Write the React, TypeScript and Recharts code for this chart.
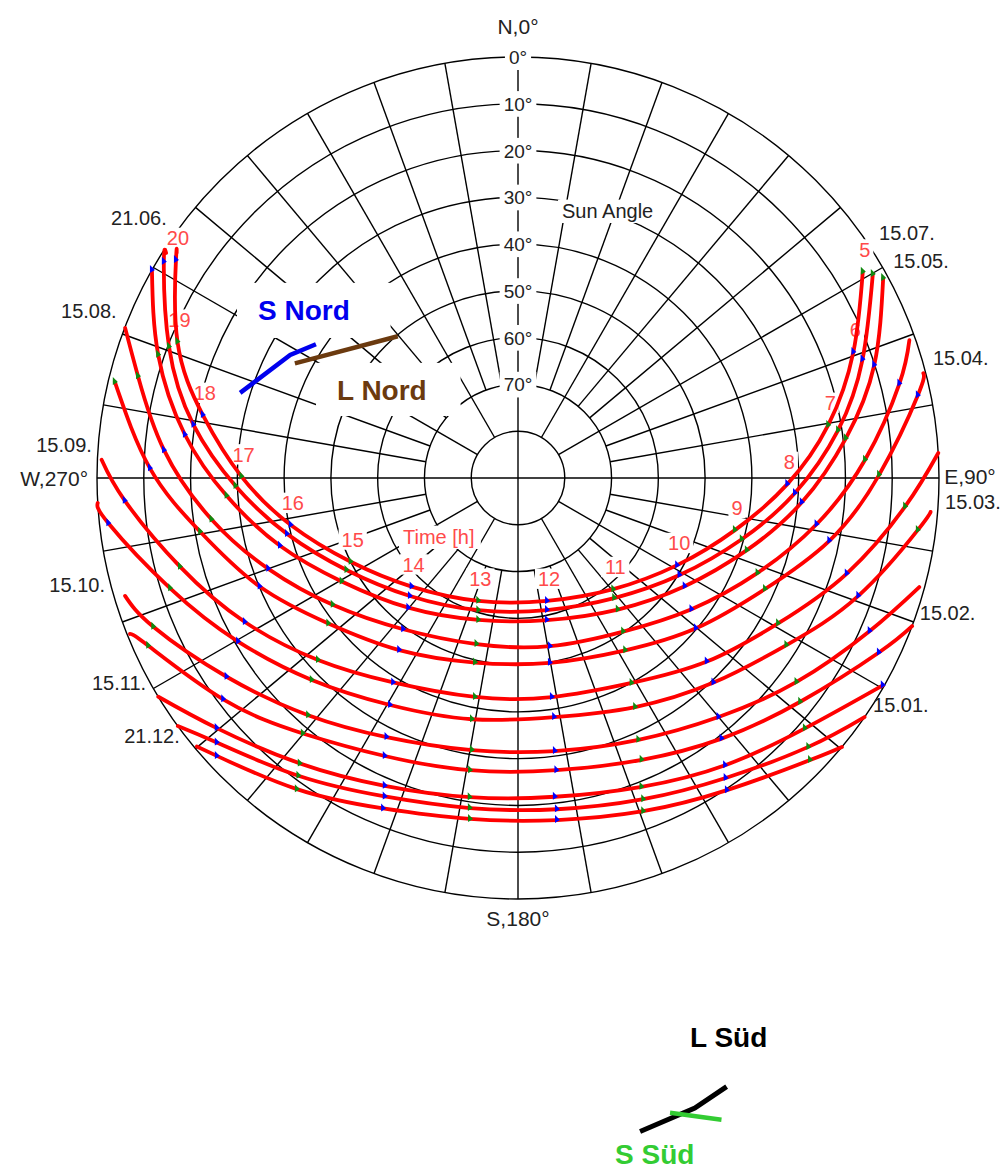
import { ScatterChart, Scatter, XAxis, YAxis } from "recharts";

// sun path points: [hour (null = curve end), azimuth deg, elevation deg]
type PathPoint = [number | null, number, number];

const path2106: PathPoint[] = [
  [5, 59.1, 4.1], [6, 69.4, 13.4], [7, 80.3, 22.7], [8, 91.3, 32.4], [9, 103.5, 42.3],
  [10, 118.7, 51.2], [11, 139.4, 58.7], [12, 166.7, 63.0], [13, 197.9, 62.4], [14, 224.4, 57.5],
  [15, 243.4, 50.0], [16, 258.3, 40.4], [17, 270.3, 30.9], [18, 281.3, 21.3], [19, 291.8, 11.6],
  [20, 302.5, 3.3], [null, 303.4, 2.6],
];
const path1507: PathPoint[] = [
  [5, 60.1, 2.5], [6, 71.0, 12.1], [7, 81.5, 20.8], [8, 93.1, 30.7], [9, 105.3, 40.4],
  [10, 121.0, 49.7], [11, 141.3, 57.1], [12, 167.6, 61.1], [13, 196.7, 60.5], [14, 222.5, 55.8],
  [15, 241.8, 48.4], [16, 256.4, 39.2], [17, 268.4, 29.6], [18, 279.3, 19.7], [19, 290.6, 10.3],
  [20, 301.4, 1.3], [null, 302.6, 0.7],
];
const path1505: PathPoint[] = [
  [5, 61.3, 1.0], [6, 72.4, 10.1], [7, 83.1, 19.4], [8, 94.9, 29.1], [9, 107.5, 38.7],
  [10, 123.0, 47.5], [11, 142.8, 54.7], [12, 168.5, 59.0], [13, 195.6, 58.5], [14, 220.2, 53.7],
  [15, 239.6, 46.3], [16, 254.1, 37.1], [17, 266.5, 27.6], [18, 277.4, 18.2], [19, 288.9, 8.7],
  [20, 299.6, 0],
];
const path1508: PathPoint[] = [
  [null, 70.6, 1.3], [6, 76.1, 6.0], [7, 87.0, 15.7], [8, 98.8, 25.4], [9, 111.6, 34.9],
  [10, 127.1, 43.5], [11, 145.6, 50.2], [12, 169.2, 53.4], [13, 194.0, 53.4], [14, 217.2, 49.4],
  [15, 235.6, 42.0], [16, 250.0, 33.2], [17, 262.3, 23.9], [18, 274.5, 14.1], [19, 285.0, 5.9],
  [null, 290.9, 0.1],
];
const path1504: PathPoint[] = [
  [null, 75.5, 0.5], [6, 78.3, 2.7], [7, 89.5, 12.8], [8, 101.4, 22.1], [9, 114.2, 32.1],
  [10, 130.2, 40.2], [11, 148.1, 46.6], [12, 170.2, 49.9], [13, 193.1, 49.5], [14, 214.6, 45.3],
  [15, 232.5, 38.9], [16, 247.2, 30.1], [17, 260.4, 21.1], [18, 271.5, 11.3], [19, 283.4, 1.4],
];
const path1509: PathPoint[] = [
  [null, 86.6, 0], [7, 94.2, 7.0], [8, 106.2, 16.8], [9, 119.2, 26.3], [10, 134.2, 33.7],
  [11, 151.0, 39.9], [12, 171.2, 42.6], [13, 191.1, 42.3], [14, 211.4, 38.8], [15, 227.7, 32.2],
  [16, 242.2, 24.0], [17, 255.3, 15.3], [18, 266.7, 5.8], [null, 272.5, 0.9],
];
const path1503: PathPoint[] = [
  [null, 94.7, 1.5], [7, 97.4, 3.8], [8, 109.1, 13.0], [9, 121.9, 22.4], [10, 136.3, 29.5],
  [11, 152.9, 35.0], [12, 171.4, 38.3], [13, 190.8, 37.5], [14, 209.4, 34.3], [15, 225.6, 28.3],
  [16, 239.7, 20.7], [17, 252.4, 12.0], [18, 263.7, 1.9], [null, 266.6, 0],
];
const path1510: PathPoint[] = [
  [null, 105.2, 1.1], [8, 113.5, 8.0], [9, 126.2, 16.2], [10, 140.0, 23.3], [11, 155.3, 28.4],
  [12, 172.3, 31.1], [13, 189.6, 31.0], [14, 206.9, 27.9], [15, 221.5, 22.3], [16, 235.7, 14.6],
  [17, 247.8, 5.8], [null, 253.3, 2.3],
];
const path1502: PathPoint[] = [
  [null, 110.6, 0], [8, 115.8, 4.3], [9, 128.4, 13.0], [10, 142.0, 19.3], [11, 156.3, 24.2],
  [12, 172.5, 27.0], [13, 189.3, 26.7], [14, 205.6, 24.1], [15, 220.1, 18.6], [16, 233.1, 11.2],
  [17, 245.6, 3.2], [null, 248.1, 0.6],
];
const path1511: PathPoint[] = [
  [8, 119.6, 0.3], [9, 131.1, 8.6], [10, 144.2, 14.3], [11, 158.2, 18.9], [12, 173.4, 21.4],
  [13, 188.6, 21.0], [14, 203.4, 18.3], [15, 217.4, 13.2], [16, 230.3, 6.3], [null, 238.7, 0],
];
const path1501: PathPoint[] = [
  [null, 124.6, 0], [9, 132.8, 5.4], [10, 145.3, 12.0], [11, 158.7, 16.3], [12, 173.3, 18.7],
  [13, 188.3, 18.7], [14, 202.7, 16.2], [15, 216.4, 10.9], [16, 228.7, 4.3], [null, 233.9, 0],
];
const path2112: PathPoint[] = [
  [null, 129.7, 0], [9, 134.0, 3.2], [10, 146.2, 9.7], [11, 159.4, 13.9], [12, 173.5, 16.4],
  [13, 188.0, 16.4], [14, 202.2, 13.7], [15, 215.4, 8.4], [16, 227.3, 2.4], [null, 230.1, 0.5],
];

const sunPaths = [path2106, path1507, path1505, path1508, path1504, path1509,
  path1503, path1510, path1502, path1511, path1501, path2112];

const westDates = ["21.06.", "15.08.", "15.09.", "15.10.", "15.11.", "21.12."];
const eastDates = ["15.07.", "15.05.", "15.04.", "15.03.", "15.02.", "15.01."];
const ringTicks = [0, 10, 20, 30, 40, 50, 60, 70];
const ringElevations = [0, 10, 20, 30, 40, 50, 60, 70, 80];
const compass = ["N,0°", "E,90°", "S,180°", "W,270°"];

// marked directions, in diagram units (east, north)
const sNord = [[-59.4, 18.2], [-48.7, 26.3], [-43.2, 28.6]];
const lNord = [[-47.7, 24.5], [-25.7, 30.3]];
const lSued = [[26.1, -139.7], [37.8, -134.7], [44.6, -130.1]];
const sSued = [[32.5, -135.7], [43.5, -137.2]];

// ---- layout
const W = 1004;
const H = 1171;
const CX = 518;
const CY = 478;
const R = 421;
const PXD = R / 90;
const X_DOMAIN = [-CX / PXD, (W - CX) / PXD];
const Y_DOMAIN = [-(H - CY) / PXD, CY / PXD];
const FONT = "'Liberation Sans', Arial, sans-serif";
const RED = "#ff0000";
const HOUR_RED = "#ff4a4a";
const GRID = "#000";
const GRID_W = 1.4;
const TXT = "#222";

const westPos = [[-75.1, 54.1], [-85.8, 34.2], [-91.1, 5.6], [-88.3, -24.4], [-79.5, -45.3], [-72.3, -56.7]];
const eastPos = [[77.2, 50.9], [80.2, 44.9], [88.7, 24.2], [91.3, -6.6], [85.9, -30.4], [75.9, -50.0]];
const compassPos: [number, number, string][] = [[0, 94.9, "middle"], [91.1, -1.3, "start"], [0, -95.8, "middle"], [-91.9, -1.7, "end"]];

const toXY = (az: number, el: number) => {
  const z = 90 - el;
  const a = (az * Math.PI) / 180;
  return { x: z * Math.sin(a), y: z * Math.cos(a) };
};

const curves = sunPaths.map((p) => p.map(([h, az, el]) => ({ ...toXY(az, el), h })));
const marks = curves.flat().filter((d) => d.h !== null);
const evenMarks = marks.filter((d) => (d.h as number) % 2 === 0);
const oddMarks = marks.filter((d) => (d.h as number) % 2 === 1);

const radials = Array.from({ length: 36 }, (_, i) => i * 10).map((az) => {
  const inner = az % 90 === 0 ? 90 : az % 30 === 0 ? 80 : 70;
  return [toXY(az, inner), toXY(az, 0)];
});

const charW = (c: string) => {
  if (/[0-9]/.test(c)) return 0.556;
  if (".,[] ".includes(c)) return 0.278;
  if (c === "°") return 0.4;
  if (c === "i" || c === "l") return 0.222;
  if (c === "m") return 0.833;
  if (/[A-Z]/.test(c)) return 0.69;
  return 0.556;
};
const textWidth = (t: string, size: number, weight: number) =>
  [...t].reduce((s, c) => s + charW(c), 0) * size * (weight > 500 ? 1.08 : 1);

const TextShape = (props: any) => {
  const { cx, cy, payload } = props;
  const { text, anchor, color, size, weight = 400, pad, dx = 0, dy = 0 } = payload;
  const x = cx + dx;
  const y = cy + dy;
  const w = textWidth(text, size, weight);
  const left = anchor === "start" ? x : anchor === "end" ? x - w : x - w / 2;
  return (
    <g>
      {pad && (
        <rect x={left - pad[0]} y={y - size * 0.72 - pad[1]} width={w + pad[0] + pad[2]}
          height={size * 0.72 + pad[1] + pad[3]} fill="#fff" />
      )}
      <text x={x} y={y} textAnchor={anchor} fill={color} fontSize={size} fontWeight={weight} fontFamily={FONT}>
        {text}
      </text>
    </g>
  );
};

const RingShape = (props: any) => (
  <g>
    {ringElevations.map((el) => (
      <circle key={el} cx={props.cx} cy={props.cy} r={(90 - el) * PXD} fill="none" stroke={GRID} strokeWidth={GRID_W} />
    ))}
  </g>
);

const NoDot = () => <g />;
const markShape = (color: string) => (props: any) => {
  const { cx, cy } = props;
  return <path d={`M${cx - 2},${cy + 3} L${cx - 2},${cy - 5} L${cx + 3},${cy} Z`} fill={color} />;
};

const boxedLabels = [
  ...ringTicks.map((el) => ({ x: 0, y: 90 - el, text: `${el}°`, anchor: "middle", color: TXT, size: 19, dy: 7, pad: [4, 6, 4, 6] })),
  ...path2106.filter((p) => p[0] !== null).map(([h, az, el]) => ({
    ...toXY(az, el), text: String(h), anchor: "middle", color: HOUR_RED, size: 20, dx: 2, dy: -15, pad: [3, 3, 3, 3],
  })),
  { x: 9.41, y: 55.58, text: "Sun Angle", anchor: "start", color: TXT, size: 20, pad: [4, 4, 4, 5] },
  { x: -24.58, y: -14.11, text: "Time [h]", anchor: "start", color: HOUR_RED, size: 20, pad: [4, 4, 4, 5] },
  { x: -55.58, y: 33.78, text: "S Nord", anchor: "start", color: "#0000ee", size: 28, weight: 700, pad: [21, 17, 32, 18] },
  { x: -38.69, y: 16.67, text: "L Nord", anchor: "start", color: "#6b3a0f", size: 28, weight: 700, pad: [21, 17, 23, 16] },
];

const plainLabels = [
  ...westDates.map((t, i) => ({ x: westPos[i][0], y: westPos[i][1], text: t, anchor: "end", color: TXT, size: 20 })),
  ...eastDates.map((t, i) => ({ x: eastPos[i][0], y: eastPos[i][1], text: t, anchor: "start", color: TXT, size: 20 })),
  ...compass.map((t, i) => ({ x: compassPos[i][0], y: compassPos[i][1], text: t, anchor: compassPos[i][2], color: TXT, size: 21 })),
  { x: 36.77, y: -121.64, text: "L Süd", anchor: "start", color: "#000", size: 28, weight: 700 },
  { x: 20.74, y: -146.6, text: "S Süd", anchor: "start", color: "#33cc33", size: 28, weight: 700 },
];

const dirLines = [
  { pts: sNord, color: "#0000ee", width: 4.5 },
  { pts: lNord, color: "#6b3a0f", width: 4.5 },
  { pts: lSued, color: "#000", width: 5 },
  { pts: sSued, color: "#33cc33", width: 4.5 },
];

export default function App() {
  return (
    <div style={{ position: "absolute", left: 0, top: 0, width: W, height: H, background: "#fff" }}>
      <ScatterChart width={W} height={H} margin={{ top: 0, right: 0, bottom: 0, left: 0 }}>
        <XAxis type="number" dataKey="x" domain={X_DOMAIN} allowDataOverflow hide />
        <YAxis type="number" dataKey="y" domain={Y_DOMAIN} allowDataOverflow hide />

        <Scatter data={[{ x: 0, y: 0 }]} shape={RingShape} isAnimationActive={false} />
        {radials.map((seg, i) => (
          <Scatter key={`r${i}`} data={seg} shape={NoDot} line={{ stroke: GRID, strokeWidth: GRID_W }}
            lineJointType="linear" isAnimationActive={false} />
        ))}

        <Scatter data={boxedLabels} shape={TextShape} isAnimationActive={false} />

        {curves.map((c, i) => (
          <Scatter key={`c${i}`} data={c} shape={NoDot}
            line={{ stroke: RED, strokeWidth: 3.8, strokeLinejoin: "round", strokeLinecap: "round" }}
            lineJointType="natural" isAnimationActive={false} />
        ))}
        <Scatter data={evenMarks} shape={markShape("#0000ff")} isAnimationActive={false} />
        <Scatter data={oddMarks} shape={markShape("#108a10")} isAnimationActive={false} />

        {dirLines.map((d, i) => (
          <Scatter key={`d${i}`} data={d.pts.map(([x, y]) => ({ x, y }))} shape={NoDot}
            line={{ stroke: d.color, strokeWidth: d.width }} lineJointType="linear" isAnimationActive={false} />
        ))}

        <Scatter data={plainLabels} shape={TextShape} isAnimationActive={false} />
      </ScatterChart>
    </div>
  );
}
